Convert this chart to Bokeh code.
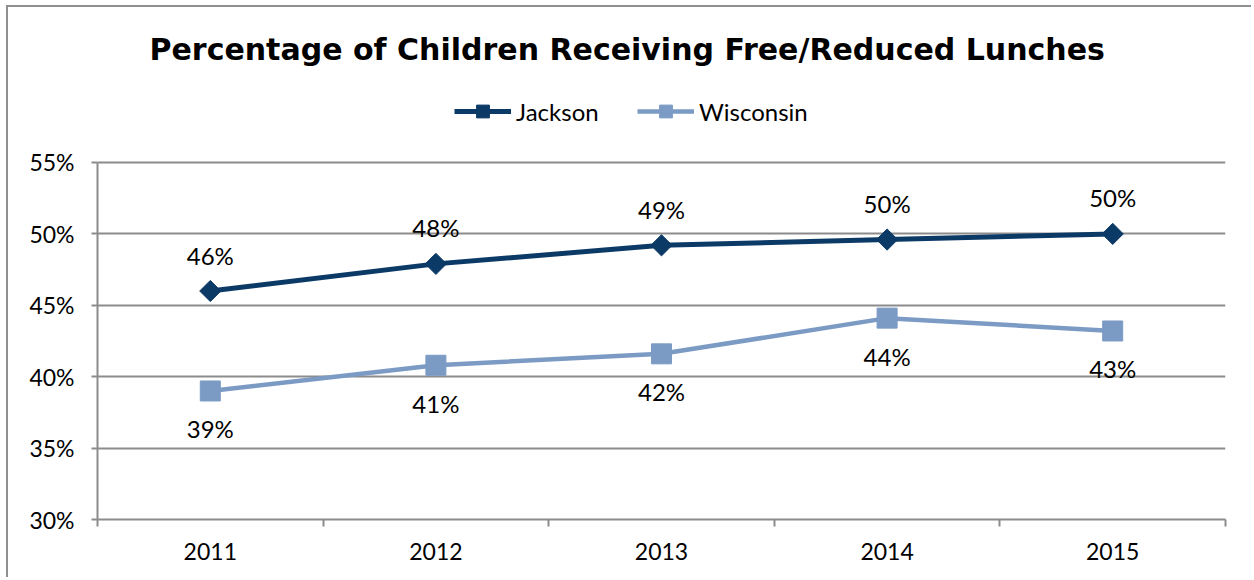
import math
from bokeh.plotting import figure
from bokeh.models import (ColumnDataSource, FixedTicker, Legend, LegendItem,
                          PrintfTickFormatter, Range1d)
from bokeh.core.properties import value
from bokeh.embed import file_html
from bokeh.resources import INLINE

years = ["2011", "2012", "2013", "2014", "2015"]
jackson = [46.0, 47.9, 49.2, 49.6, 50.0]
wisconsin = [39.0, 40.8, 41.6, 44.1, 43.2]
y_ticks = [30, 35, 40, 45, 50, 55]
y_top = 60.74   # headroom above 55% that holds the legend

JACK = "#0c3a67"
WIS = "#7b9bc5"
GRID = "#8c8c8c"
FONT = "Lato"
TITLE_FONT = "DejaVu Sans"

xs = [i + 0.5 for i in range(len(years))]
src = ColumnDataSource(dict(
    x=xs, jackson=jackson, wisconsin=wisconsin,
    jl=[f"{round(v):d}%" for v in jackson],
    wl=[f"{round(v):d}%" for v in wisconsin],
))

p = figure(width=1245, height=572, output_backend="svg", toolbar_location=None,
           x_range=Range1d(0, len(years)), y_range=Range1d(y_ticks[0], y_top),
           min_border_left=89, min_border_right=28, min_border_bottom=60,
           min_border_top=73)
p.styles = {"margin-left": "6px", "margin-top": "5px",
            "border-top": "2px solid #8f8f8f", "border-left": "2px solid #8f8f8f"}
p.outline_line_color = None
p.background_fill_color = "white"
p.border_fill_color = "white"

# title
p.title.text = "Percentage of Children Receiving Free/Reduced Lunches"
p.title.text_font = TITLE_FONT
p.title.text_font_size = "30px"
p.title.text_font_style = "bold"
p.title.text_color = "black"
p.title.align = "left"
p.title.offset = 52
p.title.standoff = 27

# axes
p.yaxis.ticker = FixedTicker(ticks=y_ticks)
p.yaxis.bounds = (y_ticks[0], y_ticks[-1])
p.yaxis.formatter = PrintfTickFormatter(format="%d%%")
p.yaxis.axis_line_color = GRID
p.yaxis.axis_line_width = 2
p.yaxis.major_tick_line_color = GRID
p.yaxis.major_tick_line_width = 2
p.yaxis.major_tick_out = 6
p.yaxis.major_tick_in = 0
p.yaxis.minor_tick_line_color = None
p.yaxis.major_label_text_font = FONT
p.yaxis.major_label_text_font_size = "23px"
p.yaxis.major_label_text_color = "black"
p.yaxis.major_label_standoff = 17

p.xaxis.ticker = FixedTicker(ticks=xs, minor_ticks=list(range(len(years) + 1)))
p.xaxis.major_label_overrides = {x: y for x, y in zip(xs, years)}
p.xaxis.axis_line_color = GRID
p.xaxis.axis_line_width = 2
p.xaxis.major_tick_line_color = None
p.xaxis.minor_tick_line_color = GRID
p.xaxis.minor_tick_line_width = 2
p.xaxis.minor_tick_out = 7
p.xaxis.minor_tick_in = 0
p.xaxis.major_label_text_font = FONT
p.xaxis.major_label_text_font_size = "23px"
p.xaxis.major_label_text_color = "black"
p.xaxis.major_label_standoff = 16

p.xgrid.grid_line_color = None
p.ygrid.ticker = FixedTicker(ticks=y_ticks)
p.ygrid.grid_line_color = GRID
p.ygrid.grid_line_width = 2

# series
jl = p.line("x", "jackson", source=src, line_color=JACK, line_width=5)
jm = p.scatter("x", "jackson", source=src, marker="square", size=15,
               angle=math.pi / 4, fill_color=JACK, line_color=JACK)
wl = p.line("x", "wisconsin", source=src, line_color=WIS, line_width=4.5)
wm = p.scatter("x", "wisconsin", source=src, marker="square", size=20,
               fill_color=WIS, line_color=WIS)

p.text("x", "jackson", text="jl", source=src, text_align="center",
       text_baseline="middle", y_offset=-36, text_font=value(FONT),
       text_font_size="24px", text_color="black")
p.text("x", "wisconsin", text="wl", source=src, text_align="center",
       text_baseline="middle", y_offset=38, text_font=value(FONT),
       text_font_size="24px", text_color="black")

legend = Legend(items=[LegendItem(label="Jackson", renderers=[jl, jm]),
                       LegendItem(label="Wisconsin", renderers=[wl, wm])],
                orientation="horizontal", location=(357, 392),
                label_text_font=FONT, label_text_font_size="24px",
                label_text_color="black", glyph_width=57, glyph_height=32,
                label_standoff=5, label_width=91, spacing=30,
                border_line_color=None, background_fill_alpha=0,
                padding=0, margin=0)
p.add_layout(legend)

open("out.html", "w").write(file_html(p, INLINE))
